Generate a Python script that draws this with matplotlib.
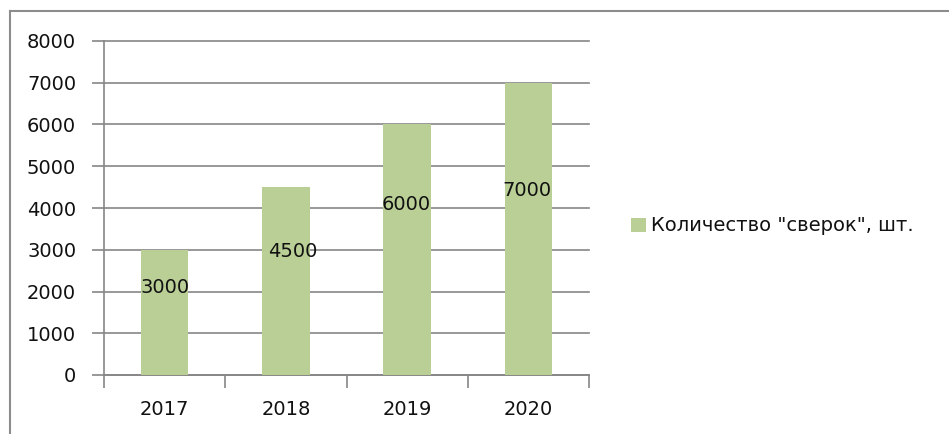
import matplotlib.pyplot as plt
from matplotlib.lines import Line2D
import numpy as np

years = ['2017', '2018', '2019', '2020']
counts = [3000, 4500, 6000, 7000]
series_name = 'Количество "сверок", шт.'
# where the value labels sit (data y) and their sideways nudge (category units)
label_y = [2100, 2950, 4080, 4420]
label_dx = [0.0, 0.06, -0.01, -0.01]

plt.rcParams['font.family'] = ['DejaVu Sans']
grey = '#868686'
bar_color = '#bacf96'
fs = 14

fig = plt.figure(figsize=(9.49, 4.34), dpi=100)
ax = fig.add_axes([104 / 949, 1 - 375 / 434, (589 - 104) / 949, (375 - 41) / 434])

x = np.arange(len(years))
ax.bar(x, counts, width=0.39, color=bar_color, label=series_name, zorder=3)
for i, v in enumerate(counts):
    ax.text(x[i] + label_dx[i], label_y[i], str(v), ha='center', va='center',
            fontsize=fs, color='#111111', zorder=4)

ax.set_xlim(-0.5, len(years) - 0.5)
ax.set_ylim(0, 8000)
ax.set_yticks(range(0, 8001, 1000))
ax.yaxis.grid(True, color=grey, linewidth=1.2, zorder=0)
ax.set_axisbelow(True)
for gl in ax.get_ygridlines():
    gl.set_clip_on(False)

ax.set_xticks(x)
ax.set_xticklabels(years)
ax.set_xticks(np.arange(-0.5, len(years)), minor=True)
ax.tick_params(axis='x', which='major', length=0, pad=18, labelsize=fs, labelcolor='#111111')
ax.tick_params(axis='x', which='minor', length=9, width=1.2, color=grey, direction='out')
ax.tick_params(axis='y', length=9, width=1.2, color=grey, direction='out', pad=11,
               labelsize=fs, labelcolor='#111111')

for s in ['top', 'right']:
    ax.spines[s].set_visible(False)
for s in ['left', 'bottom']:
    ax.spines[s].set_color(grey)
    ax.spines[s].set_linewidth(1.2)

leg = ax.legend(loc='center left', bbox_to_anchor=(631 / 949, 1 - 226 / 434),
                bbox_transform=fig.transFigure, frameon=False, fontsize=fs,
                handlelength=0.75, handleheight=0.75, handletextpad=0.3, borderpad=0,
                borderaxespad=0)
for t in leg.get_texts():
    t.set_color('#111111')

# chart area border (left and top edges)
fig.add_artist(Line2D([10 / 949, 10 / 949], [0, 1 - 11 / 434], transform=fig.transFigure,
                      color='#8c8c8c', linewidth=1.5))
fig.add_artist(Line2D([10 / 949, 1], [1 - 11 / 434, 1 - 11 / 434], transform=fig.transFigure,
                      color='#8c8c8c', linewidth=1.5))

fig.savefig('out.png', dpi=100)
